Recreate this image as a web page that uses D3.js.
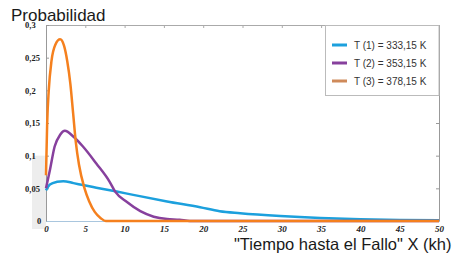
<!DOCTYPE html>
<html>
<head>
<meta charset="utf-8">
<script src="https://cdn.jsdelivr.net/npm/d3@7"></script>
<style>
  body { margin: 0; background: #fff; }
  svg { display: block; }
</style>
</head>
<body>
<div class="canvas"></div>
<script>
// Data: [tiempo (kh), probabilidad]
const t1Points = [[0,0.047],[0.5,0.056],[1.4,0.060],[2.2,0.061],[3.5,0.058],[4.7,0.055],[6.4,0.051],[9,0.045],[11.1,0.040],
  [15.4,0.030],[19.6,0.021],[22.1,0.015],[24.7,0.012],[29.8,0.0077],[34.9,0.0046],[40,0.0026],[45,0.0015],[50,0.001]];
const t2Points = [[0,0.05],[0.5,0.078],[1.1,0.114],[1.8,0.132],[2.4,0.138],[3.5,0.129],[4.7,0.114],[6.4,0.088],[8.1,0.06],
  [8.8,0.045],[10.3,0.029],[12,0.015],[13.7,0.0066],[15.4,0.003],[17,0.002],[18.3,0],[50,0]];
const t3Points = [[0,0.07],[0.15,0.15],[0.35,0.2],[0.7,0.245],[1.2,0.27],[1.8,0.278],[2.3,0.268],[2.7,0.245],[3.1,0.21],
  [3.45,0.165],[3.8,0.12],[4.2,0.086],[4.9,0.05],[5.5,0.03],[6.2,0.014],[7.0,0.004],[7.6,0],[50,0]];

const seriesNames = ["T (1) = 333,15 K", "T (2) = 353,15 K", "T (3) = 378,15 K"];
const seriesData = [t1Points, t2Points, t3Points];
const seriesColors = ["#1ca0dd", "#87409d", "#f5801e"];
const legendColors = ["#1ca0dd", "#87409d", "#cf8a5a"];

const xTicks = [0, 5, 10, 15, 20, 25, 30, 35, 40, 45, 50];
const yTicks = [0, 0.05, 0.1, 0.15, 0.2, 0.25, 0.3];

const W = 460, H = 258;
const plot = { left: 46, right: 439, top: 25, bottom: 221 };

const x = d3.scaleLinear().domain([0, 50]).range([plot.left, plot.right]);
const y = d3.scaleLinear().domain([0, 0.3]).range([plot.bottom, plot.top]);

const comma = d => String(d).replace(".", ",");

const svg = d3.select(".canvas").append("svg")
  .attr("width", W)
  .attr("height", H);

// light grey patch left of the axis (scan artefact in the original)
svg.append("rect")
  .attr("x", 32).attr("y", y(0.1))
  .attr("width", plot.left - 32).attr("height", y(0) - y(0.1) + 8)
  .attr("fill", "#ededed");

// top frame with small inward ticks
const topAxis = svg.append("g")
  .attr("transform", `translate(0,${plot.top})`)
  .call(d3.axisBottom(x).tickValues(xTicks).tickSize(3).tickFormat(""));
topAxis.select(".domain").attr("stroke", "#aaa");
topAxis.selectAll(".tick line").attr("stroke", "#aaa");

// right frame
const rightAxis = svg.append("g")
  .attr("transform", `translate(${plot.right},0)`)
  .call(d3.axisLeft(y).tickValues(yTicks).tickSize(3).tickFormat(""));
rightAxis.select(".domain").attr("stroke", "#999");
rightAxis.selectAll(".tick line").attr("stroke", "#999");

// left axis
const leftAxis = svg.append("g")
  .attr("transform", `translate(${plot.left},0)`)
  .call(d3.axisRight(y).tickValues(yTicks).tickSize(3).tickFormat(comma));
leftAxis.select(".domain").attr("stroke", "#999");
leftAxis.selectAll(".tick line").attr("stroke", "#999");
leftAxis.selectAll(".tick text")
  .attr("x", d => d === 0 ? -9 : -21)
  .attr("text-anchor", "start")
  .style("font-family", "'Liberation Serif', 'DejaVu Serif', serif")
  .style("font-weight", "bold")
  .style("font-size", "8.5px")
  .attr("fill", "#222");

// bottom axis
const bottomAxis = svg.append("g")
  .attr("transform", `translate(0,${plot.bottom})`)
  .call(d3.axisBottom(x).tickValues(xTicks).tickSize(0).tickPadding(5).tickFormat(comma));
bottomAxis.select(".domain").attr("stroke", "#a9c6de");
bottomAxis.selectAll(".tick text")
  .style("font-family", "'Liberation Serif', 'DejaVu Serif', serif")
  .style("font-weight", "bold")
  .style("font-style", "italic")
  .style("font-size", "9px")
  .attr("fill", "#222");

// curves
const line = d3.line()
  .x(d => x(d[0]))
  .y(d => y(d[1]))
  .curve(d3.curveMonotoneX);

svg.selectAll(".curve")
  .data(seriesData)
  .join("path")
  .attr("class", "curve")
  .attr("fill", "none")
  .attr("stroke", (d, i) => seriesColors[i])
  .attr("stroke-width", 2.5)
  .attr("stroke-linejoin", "round")
  .attr("d", line);

// legend
const legend = svg.append("g");
legend.append("rect")
  .attr("x", 325.5).attr("y", plot.top + 0.5)
  .attr("width", plot.right - 325.5).attr("height", 70)
  .attr("fill", "#fff")
  .attr("stroke", "#bbb");

const items = legend.selectAll(".item")
  .data(seriesNames)
  .join("g")
  .attr("class", "item")
  .attr("transform", (d, i) => `translate(332,${45 + i * 18})`);
items.append("line")
  .attr("x1", 0).attr("x2", 15)
  .attr("stroke", (d, i) => legendColors[i])
  .attr("stroke-width", 3);
items.append("text")
  .attr("x", 22).attr("y", 0)
  .attr("dy", "0.35em")
  .style("font-family", "'Liberation Sans', Arial, sans-serif")
  .style("font-size", "10px")
  .attr("fill", "#333")
  .text(d => d);

// titles
svg.append("text")
  .attr("x", 11).attr("y", 21)
  .style("font-family", "'Liberation Sans', Arial, sans-serif")
  .style("font-size", "17px")
  .attr("fill", "#1a1a1a")
  .text("Probabilidad");

svg.append("text")
  .attr("x", 234).attr("y", 250)
  .style("font-family", "'Liberation Sans', Arial, sans-serif")
  .style("font-size", "16.5px")
  .attr("fill", "#1a1a1a")
  .text("\"Tiempo hasta el Fallo\" X (kh)");
</script>
</body>
</html>
